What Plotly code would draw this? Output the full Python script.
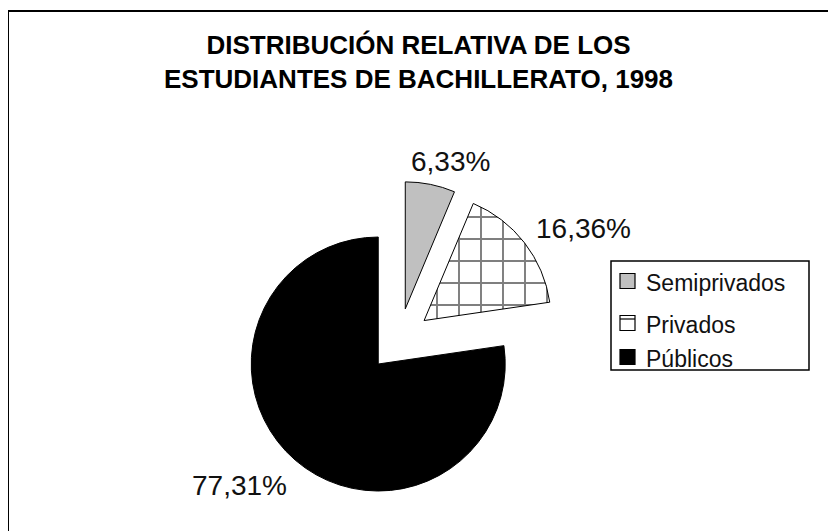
import plotly.graph_objects as go

# ---- data ----
categories = ["Semiprivados", "Privados", "Públicos"]
values = [6.33, 16.36, 77.31]
title_lines = ["DISTRIBUCIÓN RELATIVA DE LOS", "ESTUDIANTES DE BACHILLERATO, 1998"]

W, H = 836, 531
OFF = 8  # page body margin

def px(x):
    return (x - OFF) / W

def py(y):
    return (H - (y - OFF)) / H

fill_colors = ["#c0c0c0", "#ffffff", "#000000"]

# pie geometry (page pixels)
cx, cy, r, pull = 399, 340, 127, 0.25
half = r * (1 + pull)

fig = go.Figure()
fig.add_trace(go.Pie(
    labels=categories,
    values=values,
    sort=False,
    direction="clockwise",
    rotation=0,
    pull=[pull] * len(values),
    textinfo="none",
    hoverinfo="label+percent",
    showlegend=False,
    marker=dict(
        colors=fill_colors,
        line=dict(color="#000000", width=1),
        pattern=dict(shape=["", "+", ""], fgcolor="#000000", bgcolor=fill_colors,
                     size=22, solidity=0.17, fillmode="overlay"),
    ),
    domain=dict(x=[px(cx - half), px(cx + half)], y=[py(cy + half), py(cy - half)]),
))

def fmt(v):
    return f"{v:.2f}".replace(".", ",") + "%"

FONT = "Liberation Sans, Arial, sans-serif"
label_pos = [(450, 161), (583, 228), (239, 485)]
annotations = []
for v, (lx, ly) in zip(values, label_pos):
    annotations.append(dict(
        x=px(lx), y=py(ly), xref="paper", yref="paper", text=fmt(v), showarrow=False,
        xanchor="center", yanchor="middle",
        font=dict(family=FONT, size=28, color="#111111"),
    ))

annotations.append(dict(
    x=px(418), y=py(62), xref="paper", yref="paper",
    text="<b>" + title_lines[0] + "<br>" + title_lines[1] + "</b>",
    showarrow=False, xanchor="center", yanchor="middle", align="center",
    font=dict(family=FONT, size=26, color="#000000"),
))

shapes = [
    dict(type="rect", xref="paper", yref="paper", x0=px(8), x1=px(W + 30), y0=py(H + 30), y1=py(11),
         line=dict(color="#000000", width=2), fillcolor="rgba(0,0,0,0)", layer="below"),
    # legend box
    dict(type="rect", xref="paper", yref="paper", x0=px(611), x1=px(809), y0=py(370), y1=py(261),
         line=dict(color="#000000", width=1.5), fillcolor="white", layer="below"),
]

leg_rows = [281, 323, 357]
for name, col, ry in zip(categories, fill_colors, leg_rows):
    shapes.append(dict(type="rect", xref="paper", yref="paper",
                       x0=px(620), x1=px(635), y0=py(ry + 7.5), y1=py(ry - 7.5),
                       line=dict(color="#000000", width=1.2), fillcolor=col, layer="above"))
    annotations.append(dict(
        x=px(644), y=py(ry + 2), xref="paper", yref="paper", text=name, showarrow=False,
        xanchor="left", yanchor="middle",
        font=dict(family=FONT, size=23, color="#111111"),
    ))
# hint of the hatch pattern in the Privados legend key
shapes.append(dict(type="line", xref="paper", yref="paper",
                   x0=px(620), x1=px(635), y0=py(leg_rows[1] - 4), y1=py(leg_rows[1] - 4),
                   line=dict(color="#000000", width=1.2)))

fig.update_layout(
    width=W, height=H,
    margin=dict(l=0, r=0, t=0, b=0),
    paper_bgcolor="white",
    plot_bgcolor="white",
    annotations=annotations,
    shapes=shapes,
    showlegend=False,
)

fig.write_html("out.html")
